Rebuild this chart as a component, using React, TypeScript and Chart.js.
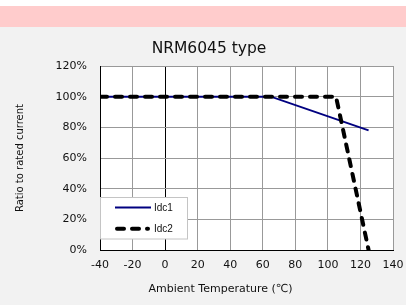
import React, { useEffect, useRef } from "react";
import { Chart, registerables } from "chart.js";

Chart.register(...registerables);

const FONT = "'DejaVu Sans', sans-serif";
const LEGEND_FONT = "'Liberation Sans', Arial, sans-serif";
const TEXT = "#111111";

const chartTitle = "NRM6045 type";
const xAxisTitle = "Ambient Temperature (\u2103)";
const yAxisTitle = "Ratio to rated current";

const xMin = -40;
const xMax = 140;
const xStep = 20;
const yMin = 0;
const yMax = 120;
const yStep = 20;
const yTickSuffix = "%";

const seriesNames = ["Idc1", "Idc2"];
const idc1Temps = [-40, 65, 125];
const idc1Values = [100, 100, 78];
const idc2Temps = [-40, 105, 125];
const idc2Values = [100, 100, 0];

const plotBackground = {
  id: "plotBackground",
  beforeDraw(chart: any) {
    const { ctx, chartArea: ca } = chart;
    ctx.save();
    ctx.fillStyle = "#ffffff";
    ctx.fillRect(ca.left, ca.top, ca.right - ca.left, ca.bottom - ca.top);
    ctx.restore();
  },
};

const legendPlugin = {
  id: "insideLegend",
  afterDatasetsDraw(chart: any) {
    const { ctx, chartArea: ca } = chart;
    ctx.save();
    // legend box
    const bx = ca.left + 0.5;
    const by = ca.bottom - 52.5;
    const bw = 87;
    const bh = 41.5;
    ctx.fillStyle = "#ffffff";
    ctx.fillRect(bx, by, bw, bh);
    ctx.strokeStyle = "#c4c4c4";
    ctx.lineWidth = 1;
    ctx.strokeRect(bx, by, bw, bh);
    // Idc1 swatch
    const y1 = by + 10;
    ctx.strokeStyle = "#000080";
    ctx.lineWidth = 2;
    ctx.beginPath();
    ctx.moveTo(ca.left + 15, y1);
    ctx.lineTo(ca.left + 51, y1);
    ctx.stroke();
    // Idc2 swatch
    const y2 = by + 31.3;
    ctx.strokeStyle = "#000000";
    ctx.lineWidth = 4;
    ctx.lineCap = "round";
    ctx.setLineDash([7, 8]);
    ctx.beginPath();
    ctx.moveTo(ca.left + 17, y2);
    ctx.lineTo(ca.left + 48, y2);
    ctx.stroke();
    ctx.setLineDash([]);
    // labels
    ctx.fillStyle = TEXT;
    ctx.font = `10px ${LEGEND_FONT}`;
    ctx.textAlign = "left";
    ctx.textBaseline = "middle";
    ctx.fillText(seriesNames[0], ca.left + 54, y1 + 0.5);
    ctx.fillText(seriesNames[1], ca.left + 54, y2 + 0.5);
    // x axis title
    ctx.font = `11px ${FONT}`;
    ctx.textAlign = "center";
    ctx.textBaseline = "middle";
    ctx.fillText(xAxisTitle, ca.left + 120.5, ca.bottom + 39.5);
    ctx.restore();
  },
};

export default function App() {
  const canvasRef = useRef<HTMLCanvasElement | null>(null);

  useEffect(() => {
    if (!canvasRef.current) return;
    const chart = new Chart(canvasRef.current, {
      type: "line",
      data: {
        datasets: [
          {
            label: seriesNames[0],
            data: idc1Temps.map((t, i) => ({ x: t, y: idc1Values[i] })),
            borderColor: "#000080",
            backgroundColor: "#000080",
            borderWidth: 2,
            pointRadius: 0,
            tension: 0,
            fill: false,
            order: 1,
          },
          {
            label: seriesNames[1],
            data: idc2Temps.map((t, i) => ({ x: t, y: idc2Values[i] })),
            borderColor: "#000000",
            backgroundColor: "#000000",
            borderWidth: 4,
            borderDash: [7, 8],
            borderCapStyle: "round",
            pointRadius: 0,
            tension: 0,
            fill: false,
            order: 0,
          },
        ],
      },
      options: {
        animation: false,
        responsive: false,
        layout: { padding: { left: 12, right: 0, top: 0, bottom: 0 } },
        plugins: {
          legend: { display: false },
          tooltip: { enabled: false },
          title: {
            display: true,
            text: chartTitle,
            color: TEXT,
            font: { family: FONT, size: 15.5, weight: "normal", lineHeight: 1.2 },
            padding: { top: 13, bottom: 7.4 },
          },
        },
        scales: {
          x: {
            type: "linear",
            min: xMin,
            max: xMax,
            ticks: {
              stepSize: xStep,
              color: TEXT,
              font: { family: FONT, size: 11 },
              padding: 9,
              maxRotation: 0,
            },
            grid: {
              color: (c: any) => (c.tick && c.tick.value === 0 ? "#000000" : "#999999"),
              drawTicks: false,
              lineWidth: 1,
            },
            border: { color: "#000000", width: 1 },
            afterFit: (s: any) => {
              s.height = 55;
              s.paddingRight = 13;
            },
          },
          y: {
            type: "linear",
            min: yMin,
            max: yMax,
            ticks: {
              stepSize: yStep,
              color: TEXT,
              font: { family: FONT, size: 11 },
              padding: 13,
              callback: (v: any) => `${v}${yTickSuffix}`,
            },
            grid: { color: "#999999", drawTicks: false, lineWidth: 1 },
            border: { color: "#000000", width: 1 },
            title: {
              display: true,
              text: yAxisTitle,
              color: TEXT,
              font: { family: FONT, size: 10, lineHeight: 1.2 },
              padding: { top: 2, bottom: 0 },
            },
            afterFit: (s: any) => {
              s.width = 88;
            },
          },
        },
      },
      plugins: [plotBackground, legendPlugin],
    } as any);
    return () => chart.destroy();
  }, []);

  return (
    <div
      style={{
        position: "absolute",
        left: 0,
        top: 0,
        width: 406,
        height: 305,
        background: "#f2f2f2",
        overflow: "hidden",
      }}
    >
      <div style={{ position: "absolute", left: 0, top: 0, width: 406, height: 6, background: "#ffffff" }} />
      <div style={{ position: "absolute", left: 0, top: 6, width: 406, height: 21, background: "#ffcccc" }} />
      <canvas
        ref={canvasRef}
        width={406}
        height={278}
        style={{ position: "absolute", left: 0, top: 27, width: 406, height: 278, display: "block" }}
      />
    </div>
  );
}
